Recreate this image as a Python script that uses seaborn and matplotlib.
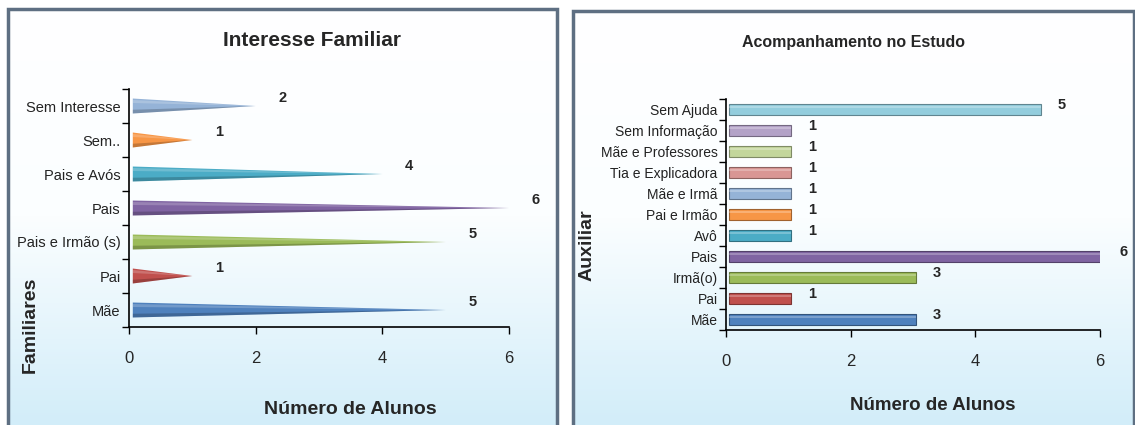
import numpy as np
import pandas as pd
import matplotlib
matplotlib.use("Agg")
import matplotlib.pyplot as plt
from matplotlib.patches import Polygon, Rectangle
from matplotlib.ticker import FixedLocator
import seaborn as sns

# dados - gráfico 1 (de baixo para cima)
familiares = ["Mãe", "Pai", "Pais e Irmão (s)", "Pais", "Pais e Avós", "Sem..", "Sem Interesse"]
alunos_fam = [5, 1, 5, 6, 4, 1, 2]
cores_fam = ["#4F81BD", "#C0504D", "#9BBB59", "#8064A2", "#4BACC6", "#F79646", "#95B3D7"]

# dados - gráfico 2 (de baixo para cima)
auxiliar = ["Mãe", "Pai", "Irmã(o)", "Pais", "Avô", "Pai e Irmão", "Mãe e Irmã",
            "Tia e Explicadora", "Mãe e Professores", "Sem Informação", "Sem Ajuda"]
alunos_aux = [3, 1, 3, 6, 1, 1, 1, 1, 1, 1, 5]
cores_aux = ["#4F81BD", "#C0504D", "#9BBB59", "#8064A2", "#4BACC6", "#F79646",
             "#95B3D7", "#D99694", "#C3D69B", "#B3A2C7", "#93CDDD"]

sns.set_style("white")
plt.rcParams['font.family'] = ['Liberation Sans', 'DejaVu Sans']

fig = plt.figure(figsize=(11.35, 4.25), dpi=100)
W, H = 1135, 425


def painel(x0, y0, x1, y1):
    # fundo com gradiente branco -> azul claro
    bg = fig.add_axes([x0 / W, 1 - y1 / H, (x1 - x0) / W, (y1 - y0) / H], zorder=-5)
    grad = np.linspace(0, 1, 256).reshape(-1, 1)
    cmap = matplotlib.colors.LinearSegmentedColormap.from_list("g", ["#ffffff", "#fbfeff", "#d2edf9"])
    bg.imshow(grad, aspect="auto", cmap=cmap, extent=[0, 1, 1, 0])
    bg.set_xlim(0, 1)
    bg.set_ylim(1, 0)
    bg.axis("off")
    bg.add_patch(Rectangle((0, 0), 1, 1, transform=bg.transAxes, fill=False,
                           edgecolor="#5e6f82", linewidth=2.5, clip_on=False))


painel(8, 9, 557, 426)
painel(573, 11, 1134, 426)


def estilo(ax, n):
    sns.despine(ax=ax)
    ax.set_facecolor("none")
    ax.set_xlim(0, 6)
    ax.set_ylim(n - 0.5, -0.5)
    ax.set_xticks([0, 2, 4, 6])
    ax.tick_params(axis="x", direction="out", length=5, width=1, color="black",
                   labelsize=12, pad=12, bottom=True)
    ax.tick_params(axis="y", which="major", length=0, labelsize=10.5, pad=6, labelcolor="#222222")
    ax.yaxis.set_minor_locator(FixedLocator(np.arange(-0.5, n, 1)))
    ax.tick_params(axis="y", which="minor", direction="out", length=5, width=1, color="black", left=True)
    for s in ["left", "bottom"]:
        ax.spines[s].set_color("black")
        ax.spines[s].set_linewidth(1.2)


# ---- gráfico 1: cones ----
df1 = pd.DataFrame({"Familiares": familiares, "Alunos": alunos_fam})
ax1 = fig.add_axes([129 / W, 1 - 327 / H, 380 / W, 238 / H])
sns.barplot(data=df1, y="Familiares", x="Alunos", hue="Familiares", order=familiares[::-1],
            hue_order=familiares, palette=cores_fam, orient="h", width=0.44, saturation=1,
            legend=False, ax=ax1)
for bar in list(ax1.patches):
    if bar.get_width() == 0:
        continue
    y0 = bar.get_y()
    h = bar.get_height()
    x_end = bar.get_x() + bar.get_width()
    cor = bar.get_facecolor()
    bar.set_visible(False)
    yc = y0 + h / 2
    x_start = 0.06
    ax1.add_patch(Polygon([(x_start, y0), (x_end, yc), (x_start, y0 + h)], closed=True,
                          facecolor=cor, edgecolor="none"))
    # brilho 3D
    ax1.add_patch(Polygon([(x_start, y0 + h * 0.1), (x_end, yc), (x_start, y0 + h * 0.3)],
                          closed=True, facecolor="white", alpha=0.2, edgecolor="none"))
    ax1.add_patch(Polygon([(x_start, y0 + h * 0.75), (x_end, yc), (x_start, y0 + h)],
                          closed=True, facecolor="black", alpha=0.2, edgecolor="none"))
    ax1.text(x_end + 0.42, yc - 0.24, f"{int(round(x_end))}", ha="center", va="center",
             fontsize=10.5, fontweight="bold")
estilo(ax1, len(familiares))
ax1.set_xlabel("")
ax1.set_ylabel("")
fig.text(312 / W, 1 - 40 / H, "Interesse Familiar", ha="center", va="center", fontsize=15,
         fontweight="bold")
fig.text(350 / W, 1 - 410 / H, "Número de Alunos", ha="center", va="center", fontsize=14,
         fontweight="bold")
fig.text(30 / W, 1 - 325 / H, "Familiares", ha="center", va="center", rotation=90, fontsize=14,
         fontweight="bold")

# ---- gráfico 2: cilindros ----
df2 = pd.DataFrame({"Auxiliar": auxiliar, "Alunos": alunos_aux})
ax2 = fig.add_axes([726 / W, 1 - 330 / H, 374 / W, 231 / H])
sns.barplot(data=df2, y="Auxiliar", x="Alunos", hue="Auxiliar", order=auxiliar[::-1],
            hue_order=auxiliar, palette=cores_aux, orient="h", width=0.48, saturation=1,
            legend=False, ax=ax2)
for bar in list(ax2.patches):
    if bar.get_width() == 0:
        continue
    cor = np.array(bar.get_facecolor())
    valor = bar.get_width()
    bar.set_x(0.05)
    bar.set_width(valor)
    bar.set_edgecolor(cor[:3] * 0.65)
    bar.set_linewidth(0.8)
    y0 = bar.get_y()
    h = bar.get_height()
    ax2.add_patch(Rectangle((0.05, y0 + h * 0.15), valor, h * 0.22, facecolor="white",
                            alpha=0.25, edgecolor="none"))
    ax2.text(valor + 0.38, y0 + h / 2 - 0.2, f"{int(round(valor))}", ha="center",
             va="center", fontsize=10.5, fontweight="bold")
estilo(ax2, len(auxiliar))
ax2.tick_params(axis="y", which="major", labelsize=10)
ax2.set_xlabel("")
ax2.set_ylabel("")
fig.text(853 / W, 1 - 43 / H, "Acompanhamento no Estudo", ha="center", va="center", fontsize=11.5,
         fontweight="bold")
fig.text(933 / W, 1 - 405 / H, "Número de Alunos", ha="center", va="center", fontsize=13.5,
         fontweight="bold")
fig.text(587 / W, 1 - 245 / H, "Auxiliar", ha="center", va="center", rotation=90, fontsize=14,
         fontweight="bold")

fig.savefig("out.png", dpi=100)
